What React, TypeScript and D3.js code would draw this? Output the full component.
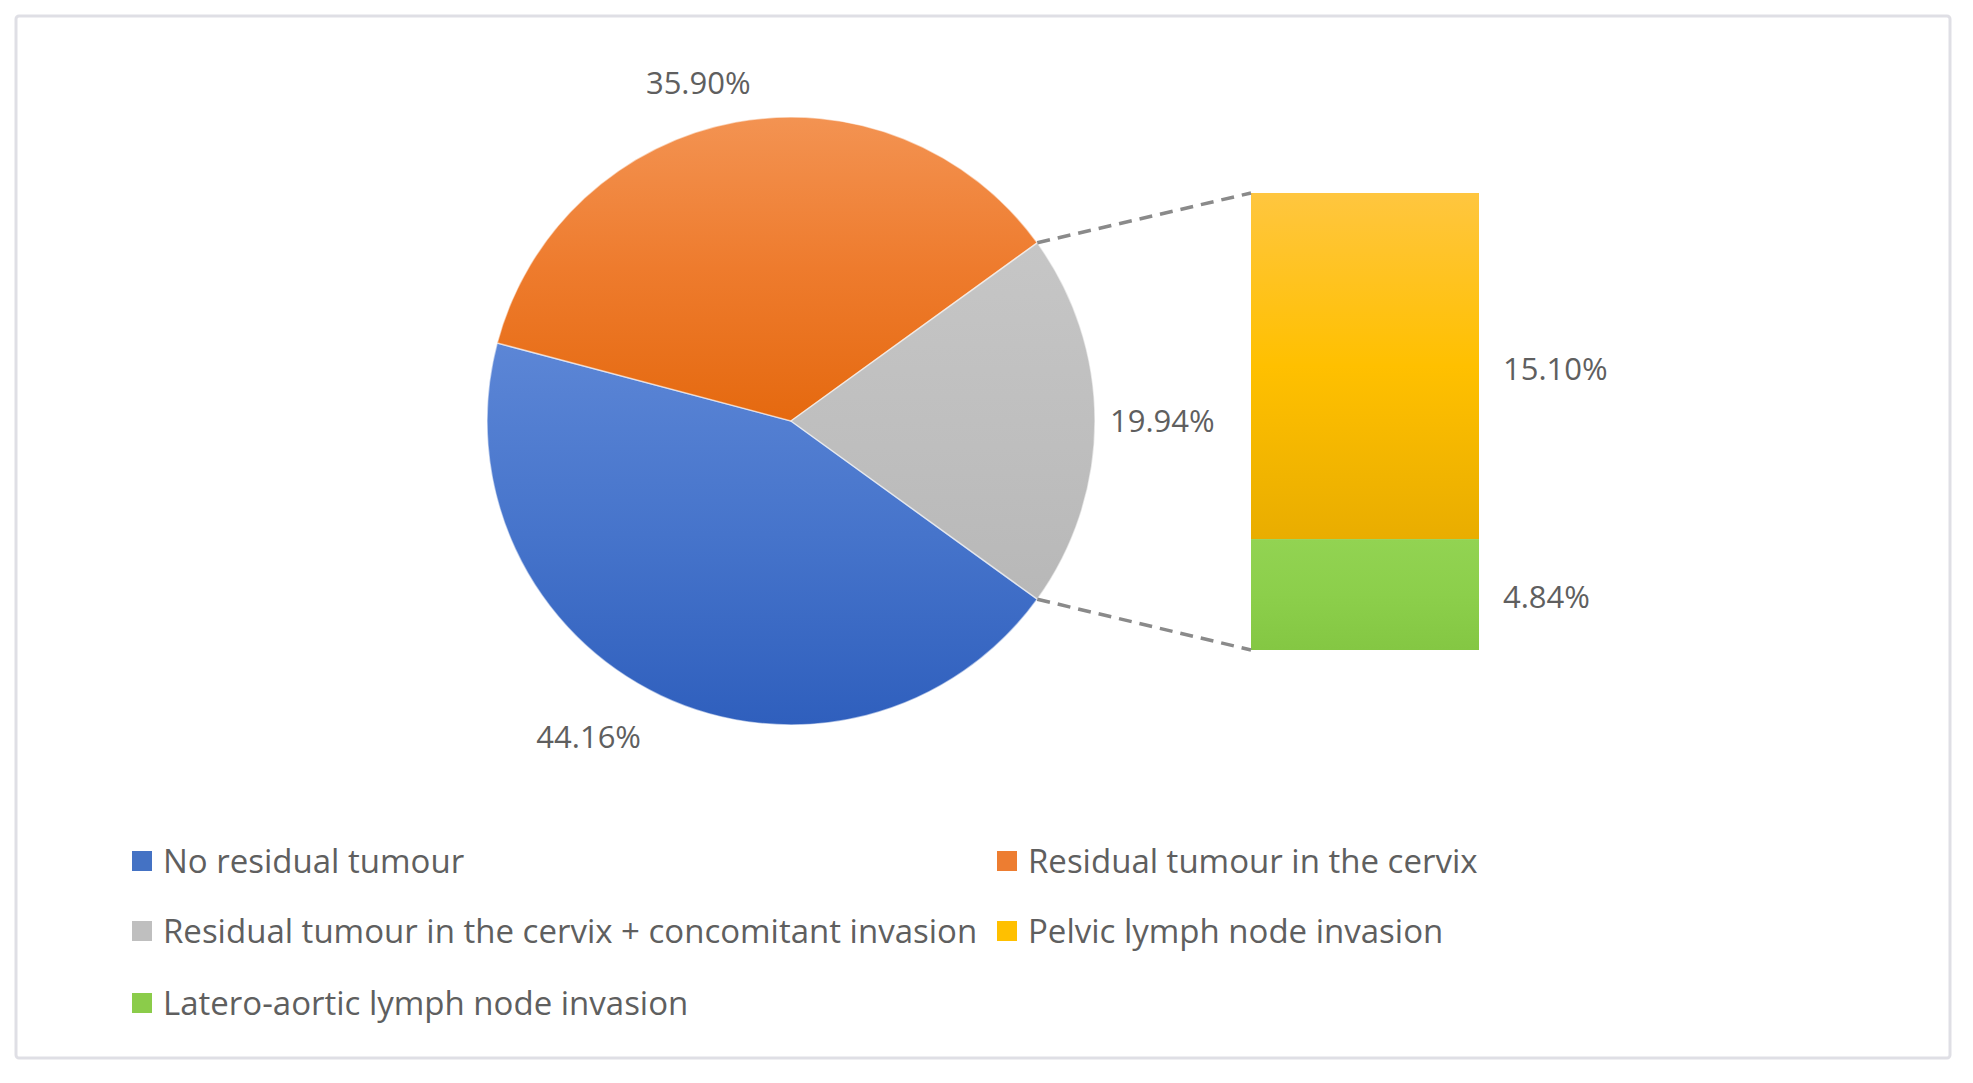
import React, { useEffect, useRef } from 'react';
import * as d3 from 'd3';

// main pie
const mainCategories = [
  'No residual tumour',
  'Residual tumour in the cervix',
  'Residual tumour in the cervix + concomitant invasion',
];
const mainValues = [44.16, 35.9, 19.94];

// secondary bar (breakdown of the grey slice)
const subCategories = ['Pelvic lymph node invasion', 'Latero-aortic lymph node invasion'];
const subValues = [15.1, 4.84];

const legendOrder = [
  mainCategories[0],
  mainCategories[1],
  mainCategories[2],
  subCategories[0],
  subCategories[1],
];

const WIDTH = 1973;
const HEIGHT = 1083;

const gradients: Record<string, [string, string, string]> = {
  [mainCategories[0]]: ['#5c86d6', '#4674cb', '#2f5fbd'],
  [mainCategories[1]]: ['#f39352', '#ee7b2d', '#e5690f'],
  [mainCategories[2]]: ['#c6c6c6', '#bfbfbf', '#b8b8b8'],
  [subCategories[0]]: ['#ffc63f', '#ffc000', '#e9ad00'],
  [subCategories[1]]: ['#92d352', '#8ccf4b', '#84c743'],
};
const swatch: Record<string, string> = {
  [mainCategories[0]]: '#4472c4',
  [mainCategories[1]]: '#ed7d31',
  [mainCategories[2]]: '#bfbfbf',
  [subCategories[0]]: '#ffc000',
  [subCategories[1]]: '#8bcc4a',
};

const FONT = "'Open Sans', 'Liberation Sans', sans-serif";
const TEXT = '#5f5f5f';

const App: React.FC = () => {
  const svgRef = useRef<SVGSVGElement>(null);

  useEffect(() => {
    if (!svgRef.current) return;
    const svg = d3.select(svgRef.current);
    svg.selectAll('*').remove();

    const defs = svg.append('defs');
    const gid = (name: string) => 'g' + legendOrder.indexOf(name);
    legendOrder.forEach((name) => {
      const [a, b, c] = gradients[name];
      const lg = defs.append('linearGradient')
        .attr('id', gid(name))
        .attr('x1', 0).attr('y1', 0).attr('x2', 0).attr('y2', 1);
      lg.append('stop').attr('offset', '0%').attr('stop-color', a);
      lg.append('stop').attr('offset', '50%').attr('stop-color', b);
      lg.append('stop').attr('offset', '100%').attr('stop-color', c);
    });

    // frame
    svg.append('rect')
      .attr('x', 16).attr('y', 16)
      .attr('width', 1934).attr('height', 1042)
      .attr('rx', 3)
      .attr('fill', '#ffffff')
      .attr('stroke', '#dfdfe5')
      .attr('stroke-width', 3);

    // ---- pie ----
    const cx = 791;
    const cy = 421;
    const radius = 304;
    const total = d3.sum(mainValues);
    const otherAngle = (2 * Math.PI * mainValues[2]) / total;
    // grey slice centred on 3 o'clock
    const start = Math.PI / 2 + otherAngle / 2;

    const pie = d3.pie<number>()
      .sort(null)
      .startAngle(start)
      .endAngle(start + 2 * Math.PI);
    const arcs = pie(mainValues);
    const arc = d3.arc<d3.PieArcDatum<number>>().innerRadius(0).outerRadius(radius);

    const g = svg.append('g').attr('transform', `translate(${cx},${cy})`);
    g.selectAll('path.slice')
      .data(arcs)
      .join('path')
      .attr('class', 'slice')
      .attr('d', arc)
      .attr('fill', (_, i) => `url(#${gid(mainCategories[i])})`)
      .attr('stroke', 'rgba(255,255,255,0.55)')
      .attr('stroke-width', 1.5);

    // pie labels, outside end
    const labelR = [350, 344, 319];
    const labelDx = [0, -30, 0];
    const anchors = ['end', 'middle', 'start'];
    g.selectAll('text.plabel')
      .data(arcs)
      .join('text')
      .attr('class', 'plabel')
      .attr('x', (d, i) => Math.sin((d.startAngle + d.endAngle) / 2) * labelR[i] + labelDx[i])
      .attr('y', (d, i) => -Math.cos((d.startAngle + d.endAngle) / 2) * labelR[i])
      .attr('dy', '0.35em')
      .attr('text-anchor', (_, i) => anchors[i])
      .style('font-family', FONT)
      .style('font-size', '31px')
      .style('fill', TEXT)
      .text((d) => `${d.data.toFixed(2)}%`);

    // ---- secondary bar ----
    const barX = 1251;
    const barW = 228;
    const barTop = 193;
    const barBottom = 650;
    const subTotal = d3.sum(subValues);
    const y = d3.scaleLinear().domain([0, subTotal]).range([barTop, barBottom]);
    const cum = d3.cumsum(subValues);
    const segs = subValues.map((v, i) => ({ name: subCategories[i], v, y0: cum[i] - v, y1: cum[i] }));

    svg.selectAll('rect.seg')
      .data(segs)
      .join('rect')
      .attr('class', 'seg')
      .attr('x', barX)
      .attr('width', barW)
      .attr('y', (d) => y(d.y0))
      .attr('height', (d) => y(d.y1) - y(d.y0))
      .attr('fill', (d) => `url(#${gid(d.name)})`);

    svg.selectAll('text.blabel')
      .data(segs)
      .join('text')
      .attr('class', 'blabel')
      .attr('x', barX + barW + 24)
      .attr('y', (d) => (y(d.y0) + y(d.y1)) / 2 + 3)
      .attr('dy', '0.35em')
      .style('font-family', FONT)
      .style('font-size', '31px')
      .style('fill', TEXT)
      .text((d) => `${d.v.toFixed(2)}%`);

    // connector lines from grey slice edges to bar corners
    const o = arcs[2];
    const edge = (a: number) => [cx + Math.sin(a) * radius, cy - Math.cos(a) * radius];
    const [ux, uy] = edge(o.startAngle - 2 * Math.PI);
    const [lx, ly] = edge(o.endAngle - 2 * Math.PI);
    const conns = [
      [ux, uy, barX, y(0)],
      [lx, ly, barX, y(subTotal)],
    ];
    svg.selectAll('line.conn')
      .data(conns)
      .join('line')
      .attr('class', 'conn')
      .attr('x1', (d) => d[0]).attr('y1', (d) => d[1])
      .attr('x2', (d) => d[2]).attr('y2', (d) => d[3])
      .attr('stroke', '#8a8a8a')
      .attr('stroke-width', 3.5)
      .attr('stroke-dasharray', '13 8');

    // ---- legend ----
    const colX = [132, 997];
    const rowY = [861, 931, 1003];
    const sw = 20;
    const leg = svg.append('g');
    legendOrder.forEach((name, i) => {
      const x = colX[i % 2];
      const yy = rowY[Math.floor(i / 2)];
      leg.append('rect')
        .attr('x', x).attr('y', yy - sw / 2)
        .attr('width', sw).attr('height', sw)
        .attr('fill', swatch[name]);
      leg.append('text')
        .attr('x', x + sw + 11)
        .attr('y', yy)
        .attr('dy', '0.35em')
        .style('font-family', FONT)
        .style('font-size', '33px')
        .style('fill', TEXT)
        .text(name);
    });
  }, []);

  return (
    <div style={{ position: 'absolute', left: 0, top: 0 }}>
      <svg ref={svgRef} width={WIDTH} height={HEIGHT} style={{ display: 'block', background: '#ffffff' }}></svg>
    </div>
  );
};

export default App;
